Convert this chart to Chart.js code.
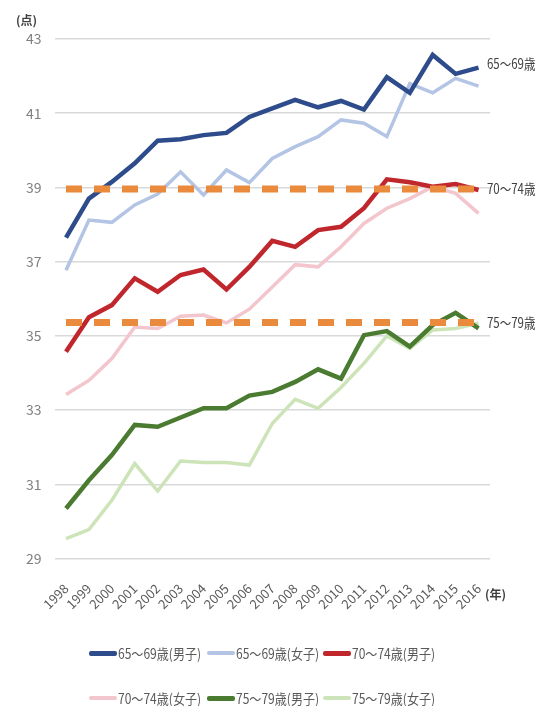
<!DOCTYPE html>
<html>
<head>
<meta charset="utf-8">
<script src="https://cdn.jsdelivr.net/npm/chart.js@4/dist/chart.umd.min.js"></script>
<style>
    body { margin: 0; background: #fff; }
    #wrap { position: relative; width: 540px; height: 706px; }
    #legend {
        position: absolute; left: 89px; top: 641px;
        display: grid; grid-template-columns: 118px 116px auto;
        row-gap: 21px;
        font-family: 'Noto Sans CJK JP', sans-serif;
        font-size: 14px; color: #595959; line-height: 24px;
    }
    #legend .item { display: flex; align-items: center; white-space: nowrap; }
    #legend .item i { display: inline-block; width: 28px; margin-right: 1px; border-radius: 2px; flex: none; }
    #legend .item b { font-weight: normal; display: inline-block; transform: scaleX(0.86); transform-origin: left center; }
</style>
</head>
<body>
<div id="wrap">
    <canvas id="grafico" width="540" height="706"></canvas>
    <div id="legend"></div>
</div>
<script>
// datos
var anios = ['1998', '1999', '2000', '2001', '2002', '2003', '2004', '2005', '2006', '2007',
    '2008', '2009', '2010', '2011', '2012', '2013', '2014', '2015', '2016'];
var hombres6569 = [37.65, 38.70, 39.15, 39.65, 40.26, 40.30, 40.41, 40.47, 40.90, 41.13, 41.36, 41.16, 41.33, 41.10, 41.97, 41.55, 42.57, 42.06, 42.23];
var mujeres6569 = [36.77, 38.12, 38.06, 38.53, 38.82, 39.42, 38.80, 39.47, 39.13, 39.78, 40.10, 40.37, 40.82, 40.73, 40.37, 41.80, 41.55, 41.94, 41.73];
var hombres7074 = [34.57, 35.50, 35.83, 36.55, 36.19, 36.64, 36.79, 36.25, 36.86, 37.56, 37.40, 37.85, 37.94, 38.44, 39.22, 39.14, 39.02, 39.09, 38.93];
var mujeres7074 = [33.42, 33.80, 34.39, 35.24, 35.20, 35.53, 35.56, 35.35, 35.72, 36.32, 36.92, 36.86, 37.40, 38.03, 38.44, 38.70, 39.02, 38.84, 38.30];
var hombres7579 = [30.35, 31.11, 31.79, 32.60, 32.55, 32.80, 33.05, 33.05, 33.39, 33.49, 33.76, 34.10, 33.85, 35.02, 35.13, 34.71, 35.29, 35.62, 35.20];
var mujeres7579 = [29.54, 29.78, 30.57, 31.56, 30.82, 31.63, 31.59, 31.59, 31.52, 32.64, 33.29, 33.05, 33.61, 34.26, 35.00, 34.66, 35.16, 35.20, 35.34];
var ref7074 = 38.96;
var ref7579 = 35.36;
var etiquetas = ['65～69歳(男子)', '65～69歳(女子)', '70～74歳(男子)', '70～74歳(女子)', '75～79歳(男子)', '75～79歳(女子)'];
var edades = ['65～69歳', '70～74歳', '75～79歳'];

var FUENTE = "'Noto Sans CJK JP', sans-serif";
var naranja = '#ea8a3c';

function linea(label, data, color, ancho) {
    return {
        label: label,
        data: data,
        borderColor: color,
        backgroundColor: color,
        borderWidth: ancho,
        pointRadius: 0,
        tension: 0,
        fill: false
    };
}
function referencia(valor) {
    return {
        label: 'ref',
        data: anios.map(function () { return valor; }),
        borderColor: naranja,
        borderWidth: 7,
        borderDash: [16, 12],
        borderCapStyle: 'butt',
        pointRadius: 0,
        fill: false
    };
}

var series = [
    linea(etiquetas[0], hombres6569, '#2e4c8b', 4.5),
    linea(etiquetas[1], mujeres6569, '#b3c4e4', 3.5),
    linea(etiquetas[2], hombres7074, '#c0272d', 4.5),
    linea(etiquetas[3], mujeres7074, '#f3c5cd', 3.5),
    linea(etiquetas[4], hombres7579, '#4a7b31', 4.5),
    linea(etiquetas[5], mujeres7579, '#cde3b8', 3.5)
];
var refs = [referencia(ref7074), referencia(ref7579)];

// textos laterales
var textos = {
    id: 'textos',
    afterDraw: function (chart) {
        var ctx = chart.ctx;
        var y = chart.scales.y;
        var area = chart.chartArea;
        var xs = area.right - 3;
        ctx.save();
        ctx.fillStyle = '#404040';
        ctx.textBaseline = 'middle';
        ctx.textAlign = 'left';
        ctx.font = '14px ' + FUENTE;
        ctx.save();
        ctx.translate(xs, 0);
        ctx.scale(0.82, 1);
        ctx.fillText(edades[0], 0, y.getPixelForValue(hombres6569[hombres6569.length - 1]) - 4);
        ctx.fillText(edades[1], 0, y.getPixelForValue(ref7074));
        ctx.fillText(edades[2], 0, y.getPixelForValue(ref7579));
        ctx.restore();
        ctx.font = 'bold 12px ' + FUENTE;
        ctx.fillText('(点)', 16, 20);
        ctx.fillText('(年)', 485, 594);
        ctx.restore();
    }
};

var mostrar = document.getElementById('grafico');
var grafico = new Chart(mostrar, {
    type: 'line',
    data: {
        labels: anios,
        datasets: refs.concat(series)
    },
    options: {
        responsive: false,
        animation: false,
        layout: {
            padding: {left: 13, right: 50, top: 39, bottom: 72}
        },
        plugins: {
            legend: {display: false},
            tooltip: {enabled: false}
        },
        scales: {
            x: {
                offset: true,
                grid: {display: false, drawTicks: false},
                border: {display: false},
                ticks: {
                    autoSkip: false,
                    maxRotation: 45,
                    minRotation: 45,
                    padding: 22,
                    color: '#595959',
                    font: {family: FUENTE, size: 13}
                }
            },
            y: {
                min: 29,
                max: 43,
                ticks: {
                    stepSize: 2,
                    padding: 13,
                    color: '#7f7f7f',
                    font: {family: FUENTE, size: 14}
                },
                grid: {color: '#d9d9d9', lineWidth: 1.5, drawTicks: false},
                border: {display: false}
            }
        }
    },
    plugins: [textos]
});

// leyenda
var leyenda = document.getElementById('legend');
for (var i = 0; i < series.length; i++) {
    var item = document.createElement('span');
    item.className = 'item';
    var muestra = document.createElement('i');
    muestra.style.background = series[i].borderColor;
    muestra.style.height = (i % 2 == 0 ? 5 : 4) + 'px';
    item.appendChild(muestra);
    var texto = document.createElement('b');
    texto.textContent = series[i].label;
    item.appendChild(texto);
    leyenda.appendChild(item);
}
</script>
</body>
</html>
